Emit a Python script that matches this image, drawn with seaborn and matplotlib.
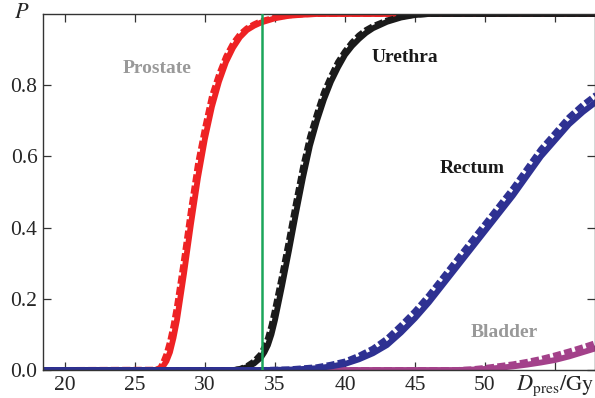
import numpy as np
import pandas as pd
import seaborn as sns
import matplotlib
matplotlib.use("Agg")
import matplotlib.pyplot as plt

# values (dose in Gy, probability P)
prostate_dose = [18.4, 26.5, 26.8, 27, 27.25, 27.5, 27.75, 28, 28.5, 29, 29.5, 30, 30.5, 31, 31.5, 32, 32.5, 33, 33.5, 34, 35, 36, 37, 38, 58]
prostate_solid = [0, 0, 0.003, 0.01, 0.025, 0.05, 0.09, 0.14, 0.27, 0.41, 0.54, 0.65, 0.74, 0.81, 0.865, 0.905, 0.935, 0.955, 0.967, 0.976, 0.988, 0.995, 0.998, 1.0, 1.0]
prostate_dash = [0, 0.001, 0.006, 0.02, 0.045, 0.08, 0.125, 0.18, 0.31, 0.45, 0.58, 0.68, 0.77, 0.83, 0.88, 0.917, 0.943, 0.96, 0.971, 0.98, 0.99, 0.996, 0.999, 1.0, 1.0]

urethra_dose = [18.4, 32, 32.5, 33, 33.5, 34, 34.25, 34.5, 34.75, 35, 35.5, 36, 36.5, 37, 37.5, 38, 38.5, 39, 39.5, 40, 40.5, 41, 41.5, 42, 43, 44, 45, 46, 58]
urethra_solid = [0, 0, 0.002, 0.008, 0.018, 0.035, 0.05, 0.07, 0.1, 0.14, 0.235, 0.335, 0.44, 0.54, 0.63, 0.70, 0.76, 0.81, 0.85, 0.885, 0.91, 0.93, 0.947, 0.96, 0.978, 0.99, 0.997, 1.0, 1.0]
urethra_dash = [0, 0, 0.003, 0.011, 0.024, 0.045, 0.065, 0.09, 0.125, 0.17, 0.265, 0.365, 0.47, 0.57, 0.655, 0.72, 0.78, 0.825, 0.865, 0.895, 0.92, 0.94, 0.955, 0.966, 0.982, 0.992, 0.998, 1.0, 1.0]

rectum_dose = [18.4, 34, 36, 38, 39, 40, 41, 42, 43, 44, 45, 46, 47, 48, 49, 50, 51, 52, 53, 54, 55, 56, 57, 58]
rectum_solid = [0, 0, 0.001, 0.005, 0.01, 0.017, 0.03, 0.047, 0.07, 0.105, 0.145, 0.19, 0.24, 0.29, 0.34, 0.39, 0.44, 0.49, 0.545, 0.60, 0.645, 0.69, 0.725, 0.755]
rectum_dash = [0, 0, 0.002, 0.008, 0.015, 0.024, 0.04, 0.06, 0.088, 0.125, 0.165, 0.21, 0.26, 0.31, 0.36, 0.41, 0.46, 0.51, 0.565, 0.62, 0.665, 0.71, 0.745, 0.775]

bladder_dose = [18.4, 48, 49, 50, 51, 52, 53, 54, 55, 56, 57, 58]
bladder_solid = [0, 0, 0.001, 0.003, 0.006, 0.01, 0.015, 0.021, 0.028, 0.038, 0.05, 0.062]
bladder_dash = [0, 0, 0.002, 0.006, 0.011, 0.016, 0.023, 0.031, 0.041, 0.052, 0.064, 0.077]

prescribed_dose = 34.1
x_ticks = [20, 25, 30, 35, 40, 45, 50, 55]
x_tick_labels = ["20", "25", "30", "35", "40", "45", "50", ""]
y_ticks = [0.0, 0.2, 0.4, 0.6, 0.8]

organs = [
    # name, dose, solid, dashed, color, label pos, label color
    ("Bladder", bladder_dose, bladder_solid, bladder_dash, "#a3418a", (51.4, 0.104), "#999999"),
    ("Prostate", prostate_dose, prostate_solid, prostate_dash, "#ee2224", (26.6, 0.848), "#999999"),
    ("Urethra", urethra_dose, urethra_solid, urethra_dash, "#1a1a1a", (44.3, 0.879), "#1a1a1a"),
    ("Rectum", rectum_dose, rectum_solid, rectum_dash, "#2e3192", (49.1, 0.567), "#1a1a1a"),
]

sns.set_style("ticks")
plt.rcParams["font.family"] = ["Liberation Serif", "DejaVu Serif"]
plt.rcParams["mathtext.fontset"] = "stix"

fig = plt.figure(figsize=(5.95, 3.98), dpi=100)
ax = fig.add_axes([43 / 595, 28 / 398, 552 / 595, 356 / 398])

for name, dose, solid, dash, color, pos, lab_color in organs:
    df = pd.DataFrame({"dose": dose, "solid": solid, "dash": dash})
    sns.lineplot(data=df, x="dose", y="dash", ax=ax, color=color, lw=4.2,
                 linestyle=(0, (1.4, 0.55)), solid_capstyle="butt")
    sns.lineplot(data=df, x="dose", y="solid", ax=ax, color=color, lw=4.2,
                 solid_joinstyle="round")
    ax.text(pos[0], pos[1], name, color=lab_color, fontsize=14, fontweight="bold",
            ha="center", va="center")

ax.axvline(prescribed_dose, color="#1ba55a", lw=1.8, zorder=5)

ax.set_xlim(18.43, 57.86)
ax.set_ylim(0, 1)
ax.set_xticks(x_ticks)
ax.set_xticklabels(x_tick_labels)
ax.set_yticks(y_ticks)
ax.set_yticklabels([f"{v:.1f}" for v in y_ticks])
ax.set_xlabel("")
ax.set_ylabel("")
ax.tick_params(direction="in", length=6, width=0.9, labelsize=15.5, color="#333333",
               top=True, right=True, pad=4)
for s in ax.spines.values():
    s.set_linewidth(1.0)
    s.set_color("#333333")

ax.text(-0.025, 1.0, "$P$", transform=ax.transAxes, fontsize=16, ha="right", va="center")
ax.text(57.8, -0.045, r"$D_{\mathrm{pres}}/\mathrm{Gy}$", fontsize=16, ha="right", va="center",
        clip_on=False)

fig.savefig("out.png", dpi=100)
